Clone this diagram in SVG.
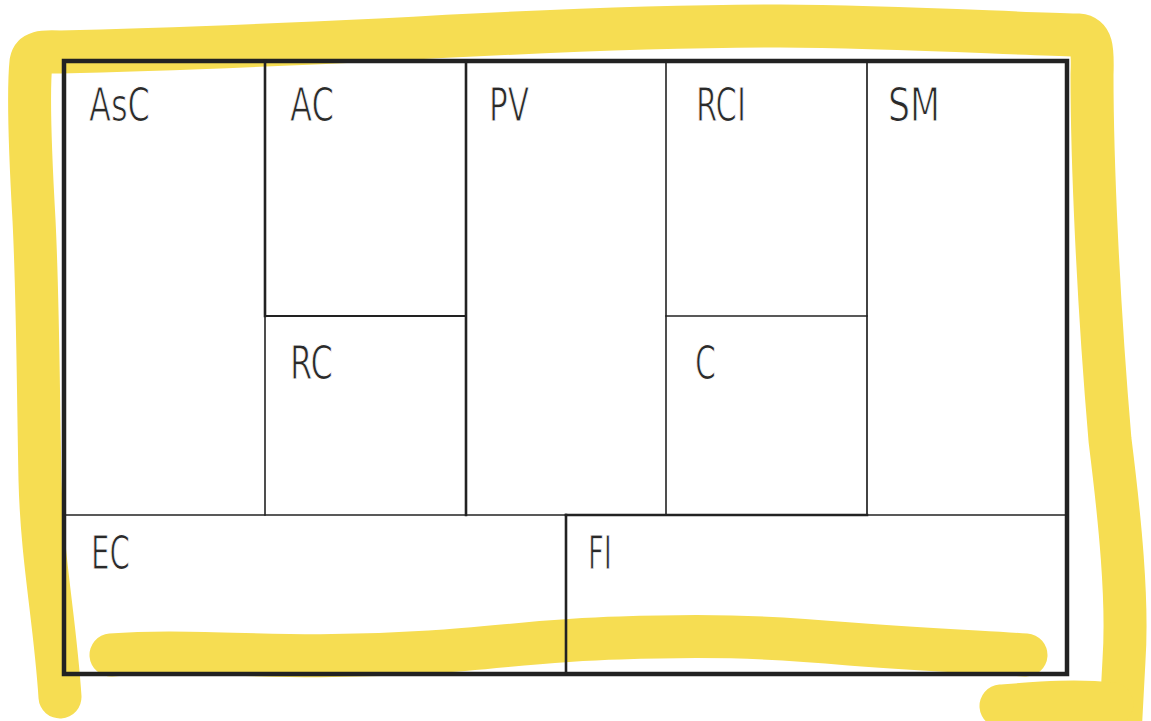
<svg xmlns="http://www.w3.org/2000/svg" width="1151" height="721" viewBox="0 0 1151 721">
<style>
.hl{fill:none;stroke:#F6DD52;stroke-width:43;stroke-linecap:round;stroke-linejoin:round}
.ln{stroke:#222;fill:none;stroke-linecap:square}
.lb{font-family:"Liberation Sans Narrow","DejaVu Sans Condensed","Liberation Sans",sans-serif;font-size:47px;fill:#2a2a2a;stroke:#fff;stroke-width:1;paint-order:fill stroke}
</style>
<rect x="0" y="0" width="1151" height="721" fill="#fff"/>
<g id="highlight">
<path class="hl" d="M60,697 C55,620 42,560 40,480 C38,380 38,300 34,220 C30,150 28,90 31,62 C33,52 42,51 60,52 C150,50 250,46 380,40 C520,32 650,26 780,26 C900,27 1000,33 1078,35 C1092,36 1093,48 1092,75 C1092,160 1098,300 1110,440 C1120,520 1128,600 1124,660 L1120,735"/>
<path class="hl" d="M1001,706 C1040,703 1075,700 1112,704"/>
<path class="hl" d="M111,655 C200,648 280,662 430,652 C500,648 540,640 620,638 C700,635 760,636 850,644 C930,650 980,652 1026,655"/>
</g>
<g id="connectors">
<rect class="ln" x="64" y="61" width="1003" height="613" stroke-width="4.5"/>
<line class="ln" x1="265" y1="61" x2="265" y2="316" stroke-width="2.6"/>
<line class="ln" x1="265" y1="316" x2="265" y2="515" stroke-width="1.6"/>
<line class="ln" x1="265" y1="316" x2="466" y2="316" stroke-width="1.8"/>
<line class="ln" x1="466" y1="61" x2="466" y2="515" stroke-width="2.6"/>
<line class="ln" x1="666" y1="61" x2="666" y2="515" stroke-width="1.6"/>
<line class="ln" x1="666" y1="316" x2="867" y2="316" stroke-width="1.6"/>
<line class="ln" x1="867" y1="61" x2="867" y2="515" stroke-width="1.7"/>
<line class="ln" x1="64" y1="515" x2="566" y2="515" stroke-width="1.7"/>
<line class="ln" x1="566" y1="515" x2="867" y2="515" stroke-width="2.6"/>
<line class="ln" x1="867" y1="515" x2="1067" y2="515" stroke-width="1.7"/>
<line class="ln" x1="566" y1="515" x2="566" y2="674" stroke-width="2.6"/>
</g>
<g id="AsC"><text class="lb" x="89" y="121" textLength="61" lengthAdjust="spacingAndGlyphs">AsC</text></g>
<g id="AC"><text class="lb" x="290" y="121" textLength="44" lengthAdjust="spacingAndGlyphs">AC</text></g>
<g id="PV"><text class="lb" x="489" y="121" textLength="40" lengthAdjust="spacingAndGlyphs">PV</text></g>
<g id="RCI"><text class="lb" x="696" y="121" textLength="50" lengthAdjust="spacingAndGlyphs">RCI</text></g>
<g id="SM"><text class="lb" x="888" y="121" textLength="52" lengthAdjust="spacingAndGlyphs">SM</text></g>
<g id="RC"><text class="lb" x="290" y="379" textLength="43" lengthAdjust="spacingAndGlyphs">RC</text></g>
<g id="C"><text class="lb" x="695" y="379" textLength="21" lengthAdjust="spacingAndGlyphs">C</text></g>
<g id="EC"><text class="lb" x="91" y="569" textLength="39" lengthAdjust="spacingAndGlyphs">EC</text></g>
<g id="FI"><text class="lb" x="588" y="569" textLength="24" lengthAdjust="spacingAndGlyphs">FI</text></g>
</svg>
